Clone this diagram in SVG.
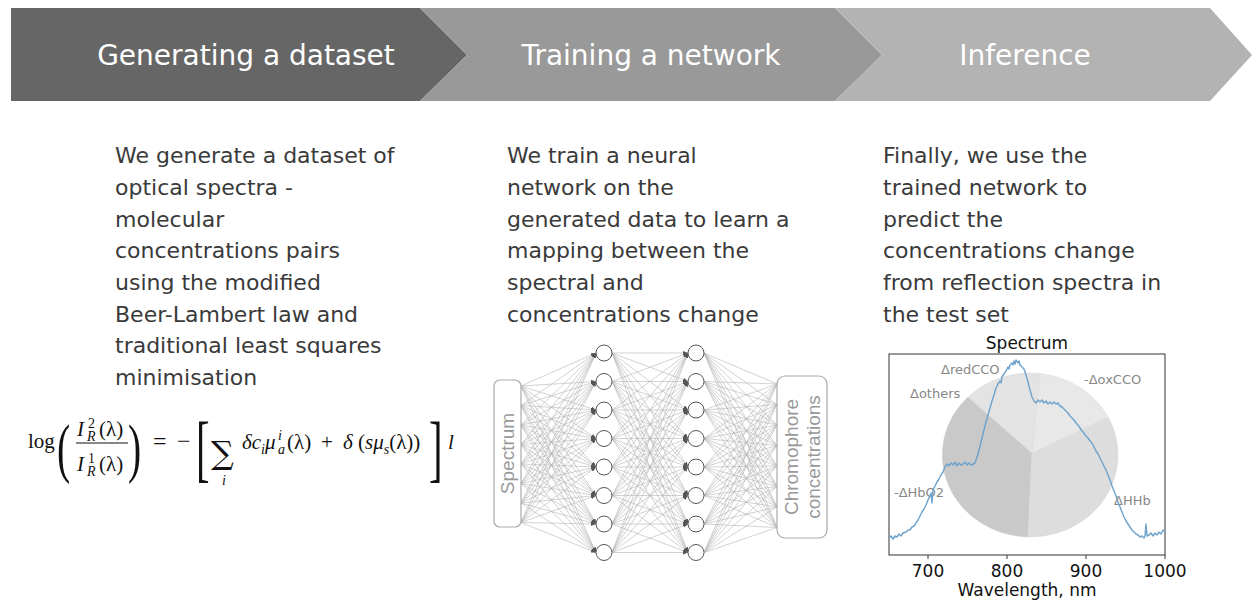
<svg xmlns="http://www.w3.org/2000/svg" width="1254" height="603" viewBox="0 0 1254 603">
<style>
.hdr{font-family:"DejaVu Sans",sans-serif;font-size:28px;fill:#fff;text-anchor:middle}
.body{font-family:"DejaVu Sans",sans-serif;font-size:22px;fill:#3a3a3a}
.m{font-family:"Liberation Serif","DejaVu Serif",serif;font-size:21px;fill:#111}
.it{font-style:italic}
.sm{font-size:14px}
.nnl line{stroke:#b3b3b3;stroke-width:0.6}
.node{fill:#fff;stroke:#555;stroke-width:1}
.nnbox{fill:#fff;stroke:#aaa;stroke-width:1.2}
.nnt{font-family:"Liberation Sans",Arial,sans-serif;font-size:19px;fill:#999;text-anchor:middle}
.ax{font-family:"DejaVu Sans",sans-serif;font-size:17px;fill:#111;text-anchor:middle}
.pl{font-family:"DejaVu Sans",sans-serif;font-size:13px;fill:#888}
</style>
<defs>
<marker id="ah" markerUnits="userSpaceOnUse" markerWidth="5" markerHeight="4" refX="5" refY="2" orient="auto"><path d="M0,0L5,2L0,4z" fill="#555"/></marker>
</defs>
<rect width="1254" height="603" fill="#fff"/>

<g id="header">
<g id="step1"><polygon points="11,8 420,8 467,55 420,101 11,101" fill="#666"/><text class="hdr" x="246" y="65">Generating a dataset</text></g>
<g id="step2"><polygon points="420,8 835,8 882,55 835,101 420,101 467,55" fill="#999"/><text class="hdr" x="651" y="65">Training a network</text></g>
<g id="step3"><polygon points="835,8 1210,8 1252,55 1210,101 835,101 882,55" fill="#b3b3b3"/><text class="hdr" x="1025" y="65">Inference</text></g>
</g>

<g id="text1" class="body">
<text x="115" y="163">We generate a dataset of</text>
<text x="115" y="195">optical spectra -</text>
<text x="115" y="227">molecular</text>
<text x="115" y="258">concentrations pairs</text>
<text x="115" y="290">using the modified</text>
<text x="115" y="322">Beer-Lambert law and</text>
<text x="115" y="353">traditional least squares</text>
<text x="115" y="385">minimisation</text>
</g>
<g id="text2" class="body">
<text x="507" y="163">We train a neural</text>
<text x="507" y="195">network on the</text>
<text x="507" y="227">generated data to learn a</text>
<text x="507" y="258">mapping between the</text>
<text x="507" y="290">spectral and</text>
<text x="507" y="322">concentrations change</text>
</g>
<g id="text3" class="body">
<text x="883" y="163">Finally, we use the</text>
<text x="883" y="195">trained network to</text>
<text x="883" y="227">predict the</text>
<text x="883" y="258">concentrations change</text>
<text x="883" y="290">from reflection spectra in</text>
<text x="883" y="322">the test set</text>
</g>

<g id="equation" class="m">
<text x="28" y="448">log</text>
<text transform="translate(57,470) scale(0.6,1)" style="font-size:66px">(</text>
<text x="77" y="436" class="it">I</text><text x="88" y="428" class="sm">2</text><text x="87" y="441" class="sm it">R</text><text x="99" y="436">(λ)</text>
<line x1="76" y1="443" x2="128" y2="443" stroke="#111" stroke-width="1"/>
<text x="77" y="471" class="it">I</text><text x="88" y="463" class="sm">1</text><text x="87" y="476" class="sm it">R</text><text x="99" y="471">(λ)</text>
<text transform="translate(128,470) scale(0.6,1)" style="font-size:66px">)</text>
<text x="153" y="449" style="font-size:24px">=</text>
<text x="177" y="449" style="font-size:24px">−</text>
<text transform="translate(196,473) scale(0.55,1)" style="font-size:74px">[</text>
<text transform="translate(211,464) scale(1.0,1)" style="font-family:'DejaVu Serif',serif;font-size:32px">∑</text>
<text x="222" y="485" class="sm it">i</text>
<text x="242" y="449"><tspan class="it">δc</tspan><tspan class="sm it" dy="5">i</tspan><tspan class="it" dy="-5">μ</tspan></text>
<text x="278" y="440" class="sm it">i</text><text x="278" y="454" class="sm it">a</text>
<text x="287" y="449">(λ)</text>
<text x="321" y="449">+</text>
<text x="343" y="449"><tspan class="it">δ</tspan> (<tspan class="it">sμ</tspan><tspan class="sm it" dy="5">s</tspan><tspan dy="-5">(λ))</tspan></text>
<text transform="translate(429,473) scale(0.55,1)" style="font-size:74px">]</text>
<text x="448" y="449" class="it">l</text>
</g>

<g id="connectors" class="nnl">
<g marker-end="url(#ah)">
<line x1="521" y1="386" x2="596" y2="353"/><line x1="521" y1="386" x2="596" y2="381.5"/><line x1="521" y1="386" x2="596" y2="410"/><line x1="521" y1="386" x2="596" y2="438.5"/><line x1="521" y1="386" x2="596" y2="467"/><line x1="521" y1="386" x2="596" y2="495.5"/><line x1="521" y1="386" x2="596" y2="524"/><line x1="521" y1="386" x2="596" y2="552.5"/>
<line x1="521" y1="405.5" x2="596" y2="353"/><line x1="521" y1="405.5" x2="596" y2="381.5"/><line x1="521" y1="405.5" x2="596" y2="410"/><line x1="521" y1="405.5" x2="596" y2="438.5"/><line x1="521" y1="405.5" x2="596" y2="467"/><line x1="521" y1="405.5" x2="596" y2="495.5"/><line x1="521" y1="405.5" x2="596" y2="524"/><line x1="521" y1="405.5" x2="596" y2="552.5"/>
<line x1="521" y1="425" x2="596" y2="353"/><line x1="521" y1="425" x2="596" y2="381.5"/><line x1="521" y1="425" x2="596" y2="410"/><line x1="521" y1="425" x2="596" y2="438.5"/><line x1="521" y1="425" x2="596" y2="467"/><line x1="521" y1="425" x2="596" y2="495.5"/><line x1="521" y1="425" x2="596" y2="524"/><line x1="521" y1="425" x2="596" y2="552.5"/>
<line x1="521" y1="444.5" x2="596" y2="353"/><line x1="521" y1="444.5" x2="596" y2="381.5"/><line x1="521" y1="444.5" x2="596" y2="410"/><line x1="521" y1="444.5" x2="596" y2="438.5"/><line x1="521" y1="444.5" x2="596" y2="467"/><line x1="521" y1="444.5" x2="596" y2="495.5"/><line x1="521" y1="444.5" x2="596" y2="524"/><line x1="521" y1="444.5" x2="596" y2="552.5"/>
<line x1="521" y1="464" x2="596" y2="353"/><line x1="521" y1="464" x2="596" y2="381.5"/><line x1="521" y1="464" x2="596" y2="410"/><line x1="521" y1="464" x2="596" y2="438.5"/><line x1="521" y1="464" x2="596" y2="467"/><line x1="521" y1="464" x2="596" y2="495.5"/><line x1="521" y1="464" x2="596" y2="524"/><line x1="521" y1="464" x2="596" y2="552.5"/>
<line x1="521" y1="483.5" x2="596" y2="353"/><line x1="521" y1="483.5" x2="596" y2="381.5"/><line x1="521" y1="483.5" x2="596" y2="410"/><line x1="521" y1="483.5" x2="596" y2="438.5"/><line x1="521" y1="483.5" x2="596" y2="467"/><line x1="521" y1="483.5" x2="596" y2="495.5"/><line x1="521" y1="483.5" x2="596" y2="524"/><line x1="521" y1="483.5" x2="596" y2="552.5"/>
<line x1="521" y1="503" x2="596" y2="353"/><line x1="521" y1="503" x2="596" y2="381.5"/><line x1="521" y1="503" x2="596" y2="410"/><line x1="521" y1="503" x2="596" y2="438.5"/><line x1="521" y1="503" x2="596" y2="467"/><line x1="521" y1="503" x2="596" y2="495.5"/><line x1="521" y1="503" x2="596" y2="524"/><line x1="521" y1="503" x2="596" y2="552.5"/>
<line x1="521" y1="522.5" x2="596" y2="353"/><line x1="521" y1="522.5" x2="596" y2="381.5"/><line x1="521" y1="522.5" x2="596" y2="410"/><line x1="521" y1="522.5" x2="596" y2="438.5"/><line x1="521" y1="522.5" x2="596" y2="467"/><line x1="521" y1="522.5" x2="596" y2="495.5"/><line x1="521" y1="522.5" x2="596" y2="524"/><line x1="521" y1="522.5" x2="596" y2="552.5"/>

<line x1="612" y1="353" x2="688" y2="353"/><line x1="612" y1="353" x2="688" y2="381.5"/><line x1="612" y1="353" x2="688" y2="410"/><line x1="612" y1="353" x2="688" y2="438.5"/><line x1="612" y1="353" x2="688" y2="467"/><line x1="612" y1="353" x2="688" y2="495.5"/><line x1="612" y1="353" x2="688" y2="524"/><line x1="612" y1="353" x2="688" y2="552.5"/>
<line x1="612" y1="381.5" x2="688" y2="353"/><line x1="612" y1="381.5" x2="688" y2="381.5"/><line x1="612" y1="381.5" x2="688" y2="410"/><line x1="612" y1="381.5" x2="688" y2="438.5"/><line x1="612" y1="381.5" x2="688" y2="467"/><line x1="612" y1="381.5" x2="688" y2="495.5"/><line x1="612" y1="381.5" x2="688" y2="524"/><line x1="612" y1="381.5" x2="688" y2="552.5"/>
<line x1="612" y1="410" x2="688" y2="353"/><line x1="612" y1="410" x2="688" y2="381.5"/><line x1="612" y1="410" x2="688" y2="410"/><line x1="612" y1="410" x2="688" y2="438.5"/><line x1="612" y1="410" x2="688" y2="467"/><line x1="612" y1="410" x2="688" y2="495.5"/><line x1="612" y1="410" x2="688" y2="524"/><line x1="612" y1="410" x2="688" y2="552.5"/>
<line x1="612" y1="438.5" x2="688" y2="353"/><line x1="612" y1="438.5" x2="688" y2="381.5"/><line x1="612" y1="438.5" x2="688" y2="410"/><line x1="612" y1="438.5" x2="688" y2="438.5"/><line x1="612" y1="438.5" x2="688" y2="467"/><line x1="612" y1="438.5" x2="688" y2="495.5"/><line x1="612" y1="438.5" x2="688" y2="524"/><line x1="612" y1="438.5" x2="688" y2="552.5"/>
<line x1="612" y1="467" x2="688" y2="353"/><line x1="612" y1="467" x2="688" y2="381.5"/><line x1="612" y1="467" x2="688" y2="410"/><line x1="612" y1="467" x2="688" y2="438.5"/><line x1="612" y1="467" x2="688" y2="467"/><line x1="612" y1="467" x2="688" y2="495.5"/><line x1="612" y1="467" x2="688" y2="524"/><line x1="612" y1="467" x2="688" y2="552.5"/>
<line x1="612" y1="495.5" x2="688" y2="353"/><line x1="612" y1="495.5" x2="688" y2="381.5"/><line x1="612" y1="495.5" x2="688" y2="410"/><line x1="612" y1="495.5" x2="688" y2="438.5"/><line x1="612" y1="495.5" x2="688" y2="467"/><line x1="612" y1="495.5" x2="688" y2="495.5"/><line x1="612" y1="495.5" x2="688" y2="524"/><line x1="612" y1="495.5" x2="688" y2="552.5"/>
<line x1="612" y1="524" x2="688" y2="353"/><line x1="612" y1="524" x2="688" y2="381.5"/><line x1="612" y1="524" x2="688" y2="410"/><line x1="612" y1="524" x2="688" y2="438.5"/><line x1="612" y1="524" x2="688" y2="467"/><line x1="612" y1="524" x2="688" y2="495.5"/><line x1="612" y1="524" x2="688" y2="524"/><line x1="612" y1="524" x2="688" y2="552.5"/>
<line x1="612" y1="552.5" x2="688" y2="353"/><line x1="612" y1="552.5" x2="688" y2="381.5"/><line x1="612" y1="552.5" x2="688" y2="410"/><line x1="612" y1="552.5" x2="688" y2="438.5"/><line x1="612" y1="552.5" x2="688" y2="467"/><line x1="612" y1="552.5" x2="688" y2="495.5"/><line x1="612" y1="552.5" x2="688" y2="524"/><line x1="612" y1="552.5" x2="688" y2="552.5"/>
</g>
<g>
<line x1="704" y1="353" x2="777" y2="384"/><line x1="704" y1="353" x2="777" y2="404.5"/><line x1="704" y1="353" x2="777" y2="425"/><line x1="704" y1="353" x2="777" y2="445.5"/><line x1="704" y1="353" x2="777" y2="466"/><line x1="704" y1="353" x2="777" y2="486.5"/><line x1="704" y1="353" x2="777" y2="507"/><line x1="704" y1="353" x2="777" y2="527.5"/>
<line x1="704" y1="381.5" x2="777" y2="384"/><line x1="704" y1="381.5" x2="777" y2="404.5"/><line x1="704" y1="381.5" x2="777" y2="425"/><line x1="704" y1="381.5" x2="777" y2="445.5"/><line x1="704" y1="381.5" x2="777" y2="466"/><line x1="704" y1="381.5" x2="777" y2="486.5"/><line x1="704" y1="381.5" x2="777" y2="507"/><line x1="704" y1="381.5" x2="777" y2="527.5"/>
<line x1="704" y1="410" x2="777" y2="384"/><line x1="704" y1="410" x2="777" y2="404.5"/><line x1="704" y1="410" x2="777" y2="425"/><line x1="704" y1="410" x2="777" y2="445.5"/><line x1="704" y1="410" x2="777" y2="466"/><line x1="704" y1="410" x2="777" y2="486.5"/><line x1="704" y1="410" x2="777" y2="507"/><line x1="704" y1="410" x2="777" y2="527.5"/>
<line x1="704" y1="438.5" x2="777" y2="384"/><line x1="704" y1="438.5" x2="777" y2="404.5"/><line x1="704" y1="438.5" x2="777" y2="425"/><line x1="704" y1="438.5" x2="777" y2="445.5"/><line x1="704" y1="438.5" x2="777" y2="466"/><line x1="704" y1="438.5" x2="777" y2="486.5"/><line x1="704" y1="438.5" x2="777" y2="507"/><line x1="704" y1="438.5" x2="777" y2="527.5"/>
<line x1="704" y1="467" x2="777" y2="384"/><line x1="704" y1="467" x2="777" y2="404.5"/><line x1="704" y1="467" x2="777" y2="425"/><line x1="704" y1="467" x2="777" y2="445.5"/><line x1="704" y1="467" x2="777" y2="466"/><line x1="704" y1="467" x2="777" y2="486.5"/><line x1="704" y1="467" x2="777" y2="507"/><line x1="704" y1="467" x2="777" y2="527.5"/>
<line x1="704" y1="495.5" x2="777" y2="384"/><line x1="704" y1="495.5" x2="777" y2="404.5"/><line x1="704" y1="495.5" x2="777" y2="425"/><line x1="704" y1="495.5" x2="777" y2="445.5"/><line x1="704" y1="495.5" x2="777" y2="466"/><line x1="704" y1="495.5" x2="777" y2="486.5"/><line x1="704" y1="495.5" x2="777" y2="507"/><line x1="704" y1="495.5" x2="777" y2="527.5"/>
<line x1="704" y1="524" x2="777" y2="384"/><line x1="704" y1="524" x2="777" y2="404.5"/><line x1="704" y1="524" x2="777" y2="425"/><line x1="704" y1="524" x2="777" y2="445.5"/><line x1="704" y1="524" x2="777" y2="466"/><line x1="704" y1="524" x2="777" y2="486.5"/><line x1="704" y1="524" x2="777" y2="507"/><line x1="704" y1="524" x2="777" y2="527.5"/>
<line x1="704" y1="552.5" x2="777" y2="384"/><line x1="704" y1="552.5" x2="777" y2="404.5"/><line x1="704" y1="552.5" x2="777" y2="425"/><line x1="704" y1="552.5" x2="777" y2="445.5"/><line x1="704" y1="552.5" x2="777" y2="466"/><line x1="704" y1="552.5" x2="777" y2="486.5"/><line x1="704" y1="552.5" x2="777" y2="507"/><line x1="704" y1="552.5" x2="777" y2="527.5"/>
</g>
</g>

<g id="spectrum-box"><rect class="nnbox" x="494" y="380" width="27" height="147" rx="6"/><text class="nnt" transform="translate(514,453.5) rotate(-90)">Spectrum</text></g>
<g id="chromophore-box"><rect class="nnbox" x="777" y="376" width="50" height="162" rx="8"/><text class="nnt" transform="translate(798,457) rotate(-90)">Chromophore</text><text class="nnt" transform="translate(820,457) rotate(-90)">concentrations</text></g>
<g id="layer1">
<circle class="node" cx="604" cy="353" r="8"/><circle class="node" cx="604" cy="381.5" r="8"/><circle class="node" cx="604" cy="410" r="8"/><circle class="node" cx="604" cy="438.5" r="8"/><circle class="node" cx="604" cy="467" r="8"/><circle class="node" cx="604" cy="495.5" r="8"/><circle class="node" cx="604" cy="524" r="8"/><circle class="node" cx="604" cy="552.5" r="8"/>
</g>
<g id="layer2">
<circle class="node" cx="696" cy="353" r="8"/><circle class="node" cx="696" cy="381.5" r="8"/><circle class="node" cx="696" cy="410" r="8"/><circle class="node" cx="696" cy="438.5" r="8"/><circle class="node" cx="696" cy="467" r="8"/><circle class="node" cx="696" cy="495.5" r="8"/><circle class="node" cx="696" cy="524" r="8"/><circle class="node" cx="696" cy="552.5" r="8"/>
</g>

<g id="plot">
<text class="ax" x="1027" y="349">Spectrum</text>
<rect x="889" y="354" width="276" height="201" fill="#fff" stroke="#333" stroke-width="1"/>
<g id="pie" stroke="#d6d6d6" stroke-width="0.4">
<path d="M1032,453 L968,397 A88,82 0 0 0 1028,537 Z" fill="#c9c9c9"/>
<path d="M1032,453 L1028,537 A88,82 0 0 0 1108,417 Z" fill="#dddddd"/>
<path d="M1032,453 L1108,417 A88,82 0 0 0 1040,373.5 Z" fill="#e8e8e8"/>
<path d="M1032,453 L1040,373.5 A88,82 0 0 0 968,397 Z" fill="#e3e3e3"/>
</g>
<text class="pl" x="941" y="374">ΔredCCO</text>
<text class="pl" x="910" y="398">Δothers</text>
<text class="pl" x="1084" y="384">-ΔoxCCO</text>
<text class="pl" x="894" y="497">-ΔHbO2</text>
<text class="pl" x="1114" y="505">ΔHHb</text>
<polyline fill="none" stroke="#6da2cc" stroke-width="1.4" stroke-linejoin="round" points="889,538 891,536 893,539 895,536 897,537 899,534 901,536 903,533 906,532 908,530 910,530 912,527 914,526 916,523 918,520 920,516 922,512 924,509 926,505 928,500 930,496 931,493 932,503 933,490 935,486 937,482 939,479 941,475 943,472 945,467 947,464 949,466 951,463 953,465 955,462 957,466 959,463 961,465 963,464 965,462 967,465 969,463 971,465 973,464 975,463 976,460 978,454 980,446 982,438 984,430 986,422 988,415 990,408 992,401 994,395 996,388 998,384 1000,381 1001,383 1002,377 1004,374 1006,371 1008,367 1009,369 1010,365 1012,363 1013,365 1014,361 1015,364 1016,360 1018,363 1019,361 1020,365 1022,367 1024,369 1026,375 1028,382 1030,390 1032,397 1034,401 1036,403 1038,400 1040,402 1042,400 1044,403 1046,401 1048,404 1050,402 1052,404 1054,402 1056,404 1058,403 1060,406 1062,407 1064,409 1066,411 1068,413 1070,416 1072,418 1074,420 1076,423 1078,425 1080,428 1082,431 1084,433 1086,436 1088,438 1090,441 1092,443 1094,447 1096,451 1098,454 1100,458 1102,462 1104,466 1106,470 1108,475 1110,480 1112,486 1114,491 1116,496 1118,502 1120,507 1122,512 1124,517 1126,521 1128,524 1130,527 1132,530 1134,532 1136,534 1138,535 1140,537 1142,536 1144,538 1145,536 1146,524 1147,536 1149,535 1151,533 1153,536 1155,533 1157,535 1159,532 1161,534 1163,530 1165,532"/>
<g stroke="#333" stroke-width="1"><line x1="928" y1="555" x2="928" y2="559"/><line x1="1007" y1="555" x2="1007" y2="559"/><line x1="1086" y1="555" x2="1086" y2="559"/><line x1="1165" y1="555" x2="1165" y2="559"/></g>
<text class="ax" x="928" y="577">700</text>
<text class="ax" x="1007" y="577">800</text>
<text class="ax" x="1086" y="577">900</text>
<text class="ax" x="1165" y="577">1000</text>
<text class="ax" x="1027" y="596">Wavelength, nm</text>
</g>
</svg>
